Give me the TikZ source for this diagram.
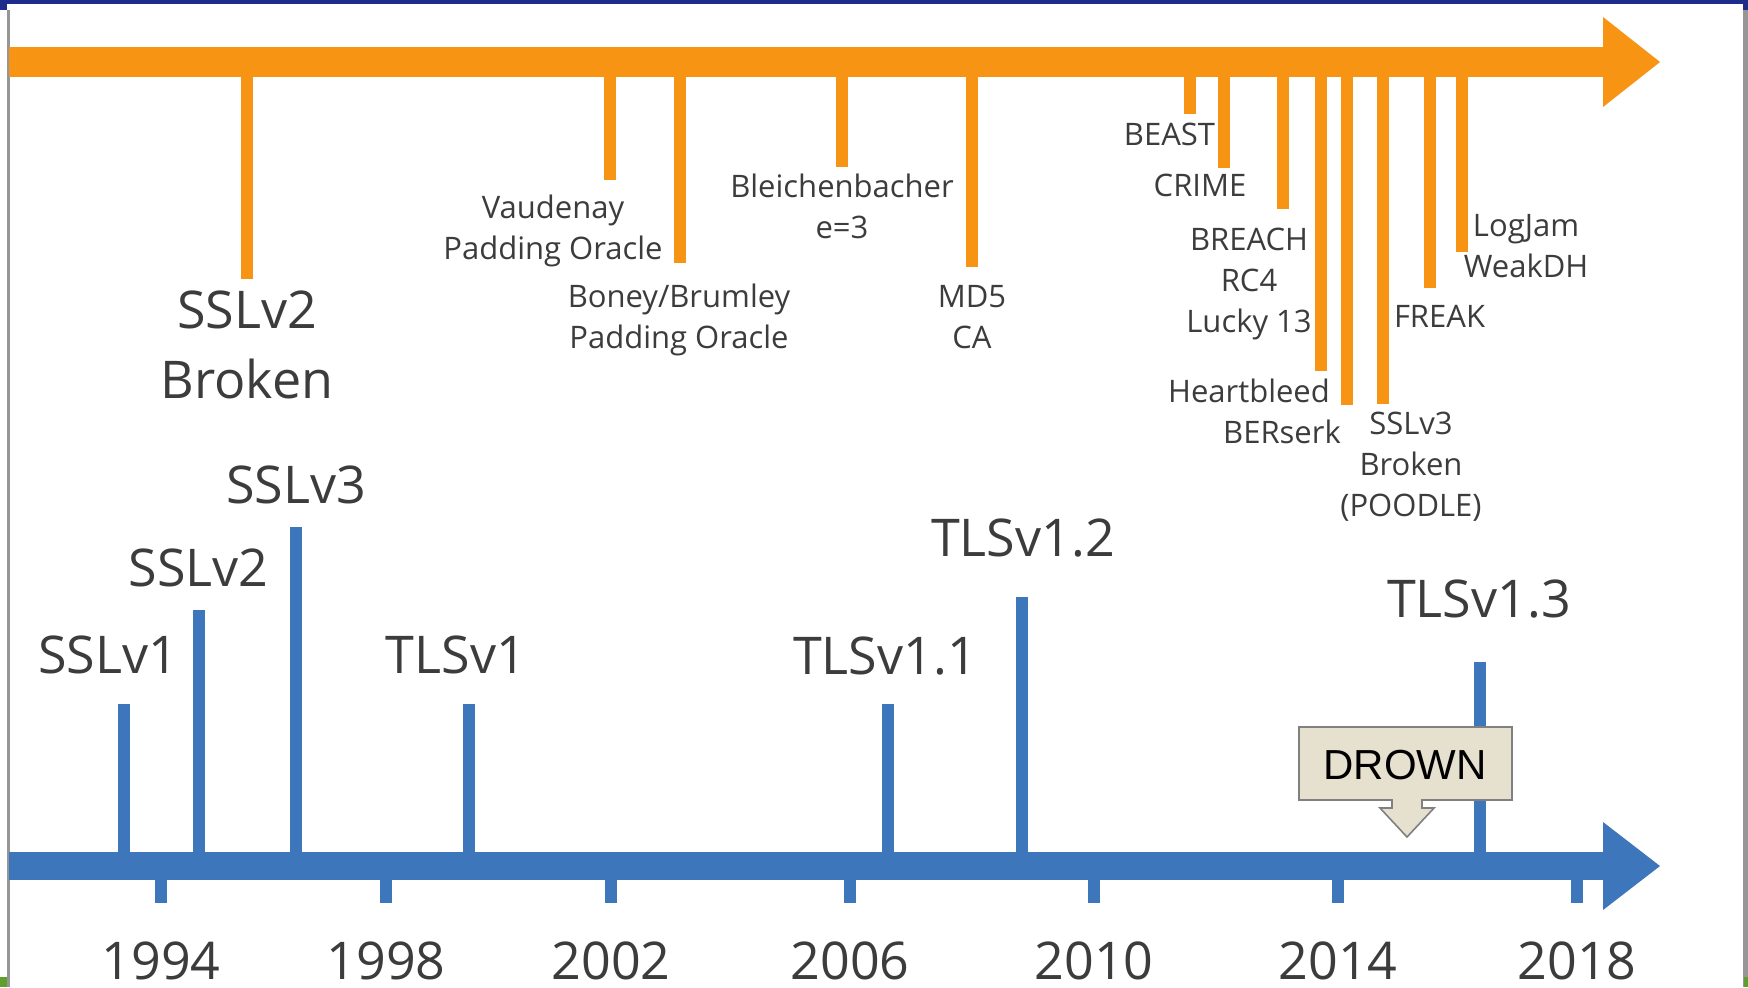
\documentclass[tikz,border=0pt]{standalone}
\usepackage{fontspec}
\setmainfont{Open Sans}
\newfontfamily\calloutfont{Liberation Sans}
\definecolor{orangec}{RGB}{248,148,20}
\definecolor{bluec}{RGB}{62,118,188}
\definecolor{labelc}{RGB}{60,60,60}
\definecolor{framebl}{RGB}{30,45,140}
\definecolor{framegr}{RGB}{150,150,150}
\definecolor{framegn}{RGB}{95,160,45}
\definecolor{calloutfill}{RGB}{230,225,206}
\definecolor{calloutline}{RGB}{128,128,128}
\tikzset{
  ostem/.style={draw=orangec, line width=6pt},
  bstem/.style={draw=bluec, line width=6pt},
  % multi-line labels are anchored on the baseline of their last line
  slabel/.style={text=labelc, font=\fontsize{15.5}{20.5}\selectfont, align=center, inner sep=0pt, anchor=base},
  blabel/.style={text=labelc, font=\fontsize{26}{35}\selectfont, align=center, inner sep=0pt, anchor=base},
  ylabel/.style={text=labelc, font=\fontsize{26}{30}\selectfont, inner sep=0pt, text depth=0pt, anchor=base},
}
\begin{document}
\begin{tikzpicture}[x=0.5pt, y=-0.5pt]
  % page and frame
  \fill[white] (0,0) rectangle (1748,987);
  \useasboundingbox (0,0) rectangle (1748,987);
  \fill[framebl] (0,0) rectangle (1748,3.5);
  \fill[framebl] (0,0) rectangle (7,10);
  \fill[framebl] (1743,0) rectangle (1748,10);
  \fill[framegr] (7,10) rectangle (9.5,987);
  \fill[framegr] (1743,10) rectangle (1748,987);
  \fill[framegn] (0,977) rectangle (7,987);
  \fill[framegn] (1744,977) rectangle (1748,987);

  % attack timeline (orange)
  \fill[orangec] (9,47) rectangle (1605,77);
  \fill[orangec] (1603,17) -- (1660,62) -- (1603,107) -- cycle;
  \foreach \n/\x/\y in {ssl2b/247/279, vaud/610/180, boney/680/263, bleich/842/167,
      md5/972/267, beast/1189.5/114, crime/1224/168, breach/1283/209,
      heart/1321/371, berserk/1347/405, poodle/1383/404, freak/1429.5/288,
      logjam/1461.5/252}{
    \coordinate (ot-\n) at (\x,62);
    \coordinate (ob-\n) at (\x,\y);
    \draw[ostem] (ot-\n) -- (ob-\n);
  }

  % attack labels
  \node[blabel] (l-ssl2b) at (247,398) {SSLv2\\Broken};
  \node[slabel] (l-vaud) at (553,259) {Vaudenay\\Padding Oracle};
  \node[slabel] (l-boney) at (679,348) {Boney/Brumley\\Padding Oracle};
  \node[slabel] (l-bleich) at (842,238) {Bleichenbacher\\e=3};
  \node[slabel] (l-md5) at (972,348) {MD5\\CA};
  \node[slabel] (l-beast) at (1169.5,145) {BEAST};
  \node[slabel] (l-crime) at (1200,196) {CRIME};
  \node[slabel] (l-breach) at (1249,332) {BREACH\\RC4\\Lucky 13};
  \node[slabel] (l-heart) at (1249,402) {Heartbleed};
  \node[slabel] (l-berserk) at (1282,443) {BERserk};
  \node[slabel] (l-poodle) at (1411,516) {SSLv3\\Broken\\(POODLE)};
  \node[slabel] (l-freak) at (1439.5,327) {FREAK};
  \node[slabel] (l-logjam) at (1526,277) {LogJam\\WeakDH};

  % protocol timeline (blue)
  \foreach \n/\x/\y in {ssl1/123.5/704, ssl2/198.5/610, ssl3/296/527, tls1/468.5/704,
      tls11/888/704, tls12/1022/597, tls13/1479.6/662}{
    \coordinate (bt-\n) at (\x,\y);
    \coordinate (bb-\n) at (\x,866);
    \draw[bstem] (bb-\n) -- (bt-\n);
  }
  \fill[bluec] (9,852) rectangle (1605,880);
  \fill[bluec] (1603,822) -- (1660,866) -- (1603,910) -- cycle;

  % year ticks and labels
  \foreach \yr/\x in {1994/161, 1998/386, 2002/611, 2006/850, 2010/1094, 2014/1338, 2018/1577}{
    \coordinate (yt-\yr) at (\x,870);
    \coordinate (yb-\yr) at (\x,903);
    \draw[bstem] (yt-\yr) -- (yb-\yr);
    \node[ylabel] (y-\yr) at (\x,979) {\yr};
  }

  % protocol labels
  \node[blabel] (l-ssl1) at (108,673) {SSLv1};
  \node[blabel] (l-ssl2) at (198.5,586) {SSLv2};
  \node[blabel] (l-ssl3) at (296,503) {SSLv3};
  \node[blabel] (l-tls1) at (456,673) {TLSv1};
  \node[blabel] (l-tls11) at (885,674) {TLSv1.1};
  \node[blabel] (l-tls12) at (1023,556) {TLSv1.2};
  \node[blabel] (l-tls13) at (1479,617) {TLSv1.3};

  % DROWN callout
  \filldraw[fill=calloutfill, draw=calloutline, line width=0.8pt, line join=miter]
    (1299,727) -- (1512,727) -- (1512,800) -- (1422,800) -- (1422,808) -- (1434,808)
    -- (1407,837) -- (1380,808) -- (1392,808) -- (1392,800) -- (1299,800) -- cycle;
  \node[text=black, font=\calloutfont\fontsize{21}{25}\selectfont, inner sep=0pt] (drown) at (1405,765) {DROWN};
\end{tikzpicture}
\end{document}
